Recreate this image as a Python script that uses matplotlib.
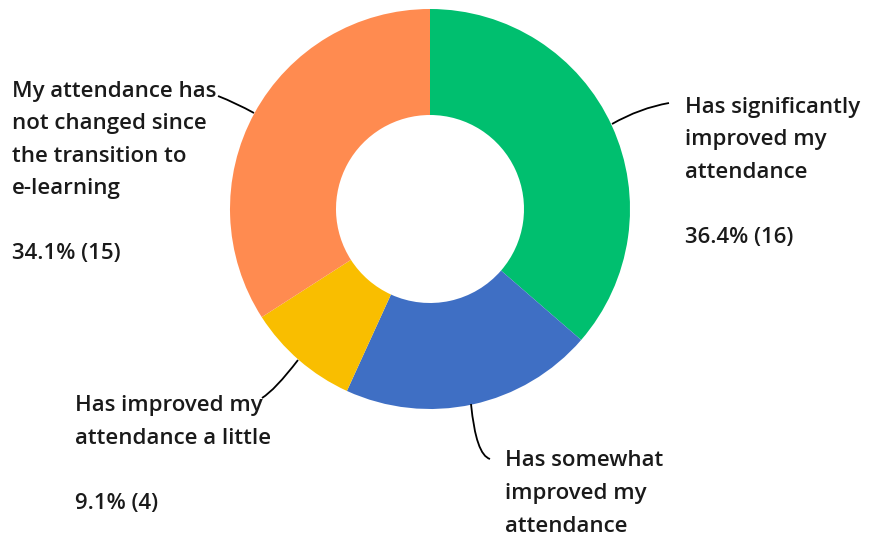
import matplotlib.pyplot as plt
from matplotlib.path import Path
from matplotlib.patches import PathPatch

# survey answers, clockwise from 12 o'clock
categories = [
    "Has significantly\nimproved my\nattendance",
    "Has somewhat\nimproved my\nattendance",
    "Has improved my\nattendance a little",
    "My attendance has\nnot changed since\nthe transition to\ne-learning",
]
counts = [16, 9, 4, 15]
colors = ["#00BF6F", "#3F6FC4", "#F9BE00", "#FF8B50"]
# the percentage line of the blue slice falls below the canvas in the original
show_pct = [True, False, True, True]

W, H = 870, 541
fig = plt.figure(figsize=(8.7, 5.41), dpi=100)
ax = fig.add_axes([0, 0, 1, 1])

cx, cy, r = 430, H - 209, 200
ax.pie(counts, colors=colors, startangle=90, counterclock=False,
       center=(cx, cy), radius=r, frame=True,
       wedgeprops=dict(width=r * 0.53, linewidth=0))
ax.set_xlim(0, W)
ax.set_ylim(0, H)
ax.set_aspect("equal")
ax.axis("off")

total = sum(counts)
# label anchor (left x, first line centre y in pixel rows from top)
label_pos = [(685, 107), (505, 461), (75, 406), (12, 91)]
step = 32.5

for cat, n, show, (lx, ly) in zip(categories, counts, show_pct, label_pos):
    lines = cat.split("\n")
    if show:
        lines += ["", f"{100 * n / total:.1f}% ({n})"]
    for i, line in enumerate(lines):
        ax.text(lx, H - (ly + i * step), line, ha="left", va="center",
                fontsize=16, family="Open Sans", fontweight="semibold",
                color="#1a1a1a")

# leader lines (pixel coords from top): start, control, end
leaders = [
    [(612, 124), (640, 108), (669, 103)],
    [(471, 404), (476, 455), (490, 459)],
    [(298, 360), (275, 390), (262, 398)],
    [(254, 113), (236, 103), (218, 96)],
]
for pts in leaders:
    verts = [(x, H - y) for x, y in pts]
    p = Path(verts, [Path.MOVETO, Path.CURVE3, Path.CURVE3])
    ax.add_patch(PathPatch(p, fill=False, lw=1.3, color="black"))

fig.savefig("out.png", dpi=100)
